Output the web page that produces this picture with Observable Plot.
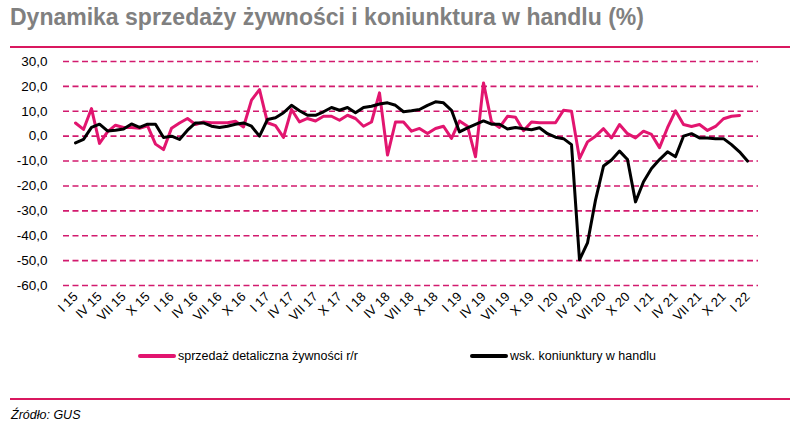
<!DOCTYPE html>
<html>
<head>
<meta charset="utf-8">
<script src="https://cdn.jsdelivr.net/npm/d3@7"></script>
<script src="https://cdn.jsdelivr.net/npm/@observablehq/plot@0.6"></script>
<style>
  html, body { margin: 0; padding: 0; background: #fff; }
  #wrap { position: relative; width: 800px; height: 433px; overflow: hidden; font-family: "Liberation Sans", Arial, sans-serif; }
  #title { position: absolute; left: 10px; top: 4px; font-family: "Liberation Sans Narrow", "Arial Narrow", "Liberation Sans", sans-serif; font-weight: bold; font-size: 23px; color: #808080; white-space: nowrap; }
  .rule { position: absolute; left: 10px; width: 780px; height: 2px; background: #d9185f; }
  #chart { position: absolute; left: 0; top: 50px; }
  .leg { position: absolute; top: 349px; font-size: 12.5px; color: #000; white-space: nowrap; font-family: "Liberation Sans Narrow", "Arial Narrow", "Liberation Sans", sans-serif; }
  .sw { display: inline-block; width: 38px; height: 4px; border-radius: 2px; vertical-align: middle; margin-right: 2px; position: relative; top: -1px; }
  #src { position: absolute; left: 11px; top: 408px; font-style: italic; font-size: 12.5px; color: #000; }
</style>
</head>
<body>
<div id="wrap">
  <div id="title">Dynamika sprzedaży żywności i koniunktura w handlu (%)</div>
  <div class="rule" style="top:46px"></div>
  <div id="chart"></div>
  <div class="leg" style="left:138px"><span class="sw" style="background:#e2156f"></span>sprzedaż detaliczna żywności r/r</div>
  <div class="leg" style="left:470px"><span class="sw" style="background:#000"></span>wsk. koniunktury w handlu</div>
  <div class="rule" style="top:398px"></div>
  <div id="src">Źródło: GUS</div>
</div>
<script>
const monthNames = ["I","II","III","IV","V","VI","VII","VIII","IX","X","XI","XII"];
const years = ["15","16","17","18","19","20","21","22"];
const yTicks = [30,20,10,0,-10,-20,-30,-40,-50,-60];

// sprzedaż detaliczna żywności r/r (I 15 – XII 21)
const foodSales = [5.3,2.7,11.1,-2.9,1.7,4.4,3.5,3.5,3.2,4.2,-3.2,-5.4,
  3.2,5.3,7.1,4.7,5.7,5.4,5.4,5.4,6.0,3.7,14.5,18.7,
  5.4,4.2,-0.5,10.7,5.7,7.1,6.1,8.0,8.0,6.4,8.4,7.1,
  4.0,5.7,17.4,-7.6,5.7,5.7,2.0,3.1,1.1,3.1,4.0,-0.9,
  6.1,4.0,-8.3,21.4,5.7,3.5,8.0,7.6,2.2,5.7,5.4,5.4,
  5.4,10.4,10.0,-9.0,-2.3,0.0,3.0,-0.7,4.7,1.0,-0.7,2.0,
  0.7,-4.6,3.4,10.2,4.7,3.9,4.7,2.3,3.9,7.0,8.0,8.3];

// wsk. koniunktury w handlu (I 15 – I 22)
const tradeIndex = [-2.7,-1.3,3.5,4.8,2.1,2.4,2.9,4.9,3.5,4.8,4.8,-0.5,
  0.0,-1.3,2.4,5.3,5.3,4.0,3.5,4.0,4.8,5.3,4.0,0.0,
  6.7,7.4,9.4,12.4,10.2,8.4,8.4,9.8,11.5,10.4,11.5,9.4,
  11.5,12.0,12.9,13.4,12.4,9.8,10.2,10.7,12.4,13.8,13.4,10.4,
  1.7,3.3,4.7,6.1,4.8,4.8,2.9,3.5,3.0,2.6,3.4,1.0,
  -0.4,-1.0,-3.4,-49.7,-42.9,-25.7,-12.0,-9.6,-6.0,-9.4,-26.4,-18.3,
  -13.0,-9.4,-6.3,-8.3,0.0,1.0,-0.7,-0.7,-1.0,-1.0,-3.4,-6.3,-10.0];

const keys = [];
for (const y of years) for (const m of monthNames) keys.push(m + " " + y);
keys.length = tradeIndex.length;
const tickKeys = keys.filter((k, i) => i % 3 === 0);

const food = foodSales.map((v, i) => ({k: keys[i], v}));
const trade = tradeIndex.map((v, i) => ({k: keys[i], v}));

const pink = "#e2156f";
const chart = Plot.plot({
  width: 800,
  height: 290,
  marginTop: 11,
  marginBottom: 55,
  marginLeft: 63,
  marginRight: 42,
  style: {fontFamily: "'Liberation Sans', Arial, sans-serif", fontSize: "13px", color: "#000", background: "transparent"},
  x: {type: "point", domain: keys, padding: 0.37, axis: null},
  y: {domain: [-60, 30], label: null},
  marks: [
    Plot.ruleY(yTicks, {stroke: "#d21a6e", strokeWidth: 1.6, strokeDasharray: "6,3.5"}),
    Plot.axisY({ticks: yTicks, tickSize: 0, tickPadding: 16, label: null, tickFormat: d => d.toFixed(1).replace(".", ","), fontSize: 13.5}),
    Plot.text(tickKeys, {x: d => d, frameAnchor: "bottom", dy: 12, dx: 3, rotate: -45, textAnchor: "end", fontSize: 13, fill: "#000", clip: false}),
    Plot.lineY(food, {x: "k", y: "v", stroke: pink, strokeWidth: 3}),
    Plot.lineY(trade, {x: "k", y: "v", stroke: "#000", strokeWidth: 3})
  ]
});
document.getElementById("chart").appendChild(chart);
</script>
</body>
</html>
